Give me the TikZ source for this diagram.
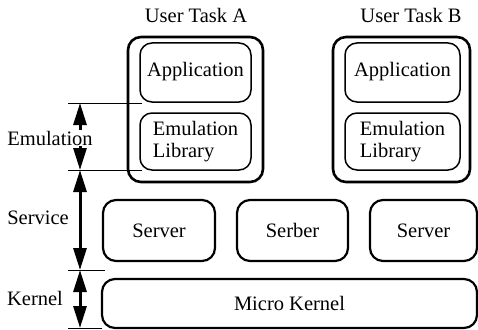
\documentclass[tikz,border=0pt]{standalone}
\usepackage{fontspec}
\setmainfont{Liberation Serif}
\newfontfamily\diagfont{Liberation Serif}
\usetikzlibrary{arrows.meta}
\begin{document}
\begin{tikzpicture}[x=1pt,y=-1pt,
  font=\diagfont\fontsize{20.5}{22}\selectfont,
  outer/.style={draw,line width=2.6pt,rounded corners=13pt},
  inner/.style={draw,line width=1.5pt,rounded corners=12pt},
  srv/.style={draw,line width=2.2pt,rounded corners=13pt},
  guide/.style={line width=0.8pt},
  dim/.style={line width=3pt,{Triangle[length=22pt,width=13pt]}-{Triangle[length=22pt,width=13pt]}},
  lbl/.style={inner sep=1pt}]
\useasboundingbox (0,0) rectangle (478,329);
% user tasks
\draw[outer] (128,37) rectangle (263,182);
\draw[outer] (333,37) rectangle (470,182);
\node (uta) at (196,15) {User Task A};
\node (utb) at (411,15) {User Task B};
\draw[inner] (140,43) rectangle (251,102);
\node (appa) at (195.5,72) {Application};
\draw[inner] (140,113) rectangle (251,170);
\node[align=left] (ela) at (195.5,142) {Emulation\\Library};
\draw[inner] (345,43) rectangle (460,102);
\node (appb) at (402.5,72) {Application};
\draw[inner] (345,113) rectangle (460,170);
\node[align=left] (elb) at (402.5,142) {Emulation\\Library};
% servers
\draw[srv] (103,200) rectangle (215,261);
\node (s1) at (159,230.5) {Server};
\draw[srv] (237,200) rectangle (348,261);
\node (s2) at (292.5,230.5) {Serber};
\draw[srv] (370,200) rectangle (477,261);
\node (s3) at (423.5,230.5) {Server};
% micro kernel
\draw[srv] (102,279) rectangle (477,328);
\node (mk) at (289.5,303.5) {Micro Kernel};
% guide lines
\coordinate (g1a) at (68,103); \coordinate (g1b) at (142,103);
\coordinate (g2a) at (68,170); \coordinate (g2b) at (142,170);
\coordinate (g3a) at (68,270); \coordinate (g3b) at (105,270);
\coordinate (g4a) at (68,328); \coordinate (g4b) at (102,328);
\draw[guide] (g1a) -- (g1b);
\draw[guide] (g2a) -- (g2b);
\draw[guide] (g3a) -- (g3b);
\draw[guide] (g4a) -- (g4b);
% dimension arrows
\coordinate (e1) at (80,103); \coordinate (e2) at (80,170);
\coordinate (e3) at (80,270); \coordinate (e4) at (80,328);
\draw[dim] (e1) -- (e2);
\draw[dim] (e2) -- (e3);
\draw[dim] (e3) -- (e4);
\node[lbl,fill=white] (lemu) at (50,138) {Emulation};
\node[lbl] (lsrv) at (38,218) {Service};
\node[lbl] (lker) at (35,298) {Kernel};
\end{tikzpicture}
\end{document}
